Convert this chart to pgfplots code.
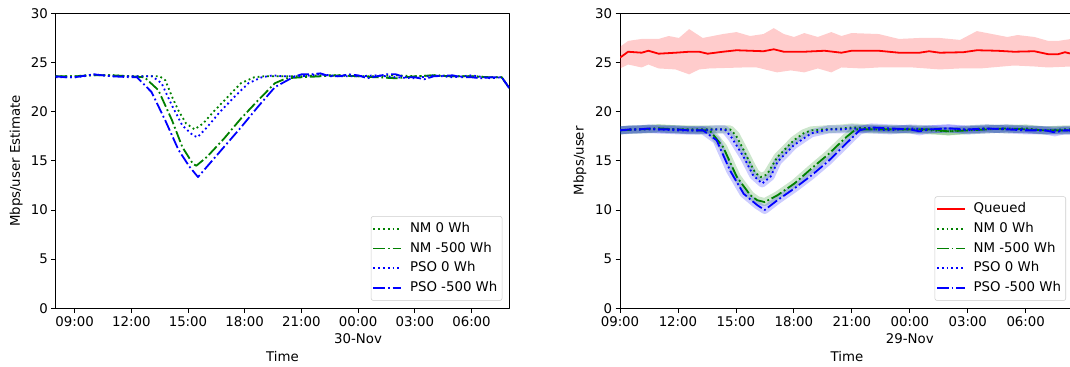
\documentclass[border=0pt]{standalone}
\usepackage{pgfplots}
\pgfplotsset{compat=1.18}
\usepackage{fontspec}
\setmainfont{DejaVu Sans}
\definecolor{mplgreen}{rgb}{0,0.5,0}
\definecolor{mplblue}{rgb}{0,0,1}
\definecolor{mplred}{rgb}{1,0,0}
\tikzset{
  mpldot/.style={dash pattern=on 1.35pt off 2.23pt},
  mpldashdot/.style={dash pattern=on 8.64pt off 2.16pt on 1.35pt off 2.16pt},
}
\pgfplotsset{
  myaxis/.style={
    anchor=south west, scale only axis,
    height=221.175pt,
    ymin=0, ymax=30, ytick={0,5,...,30},
    /pgf/number format/assume math mode=true,
    tick align=outside, xtick pos=bottom, ytick pos=left,
    major tick length=3.2pt,
    every tick/.style={black, line width=0.6pt},
    axis line style={black, line width=0.6pt},
    xticklabel style={align=center, inner sep=2.5pt},
    yticklabel style={inner sep=2.5pt},
    every axis x label/.style={at={(axis description cs:0.5,0)}, anchor=center, yshift=-35.8pt},
    legend cell align=left,
    legend image code/.code={\draw[##1, line cap=butt] (0pt,0pt) -- (21pt,0pt);},
    legend style={anchor=south east, draw=black!20, rounded corners=1.5pt, fill=white, fill opacity=0.8, text opacity=1,
      inner xsep=1pt, inner ysep=1.9pt, column sep=3.25pt,
      nodes={inner ysep=2.4pt, inner xsep=2.5pt, text height=7.6pt, text depth=2.4pt}},
    line join=round,
  },
}
\begin{document}
\fontsize{10}{12.75}\selectfont
\begin{tikzpicture}
\path[use as bounding box] (0,0) rectangle (802.5pt,275.25pt);
% ---------------- left -----------------
\begin{axis}[myaxis,
  at={(41.775pt,44.025pt)}, width=340.2pt,
  xmin=-1, xmax=23,
  xtick={0,3,6,9,12,15,18,21},
  xticklabels={09:00,12:00,15:00,18:00,21:00,{00:00\\30-Nov},03:00,06:00},
  xlabel={Time},
  ylabel={Mbps/user Estimate},
  every axis y label/.style={at={(axis description cs:0,0.5)}, rotate=90, anchor=center, yshift=29.6pt},
  legend style={at={(1,0)}, xshift=-5.25pt, yshift=5.7pt},
]
\addlegendimage{mplgreen, line width=1.35pt, mpldot}
\addlegendentry{NM 0 Wh}
\addlegendimage{mplgreen, line width=1.35pt, mpldashdot}
\addlegendentry{NM -500 Wh}
\addlegendimage{mplblue, line width=1.35pt, mpldot}
\addlegendentry{PSO 0 Wh}
\addlegendimage{mplblue, line width=1.35pt, mpldashdot}
\addlegendentry{PSO -500 Wh}
\addplot[mplgreen, line width=1.35pt, mpldot, forget plot] coordinates {
(-1,23.6) (0,23.6) (0.5,23.7) (1,23.7) (2,23.7) (3,23.6) (4,23.6) (4.5,23.6) (4.8,23.2) (5.16,21.5) (5.5,20.1) (5.9,18.8) (6.35,18.2) (6.8,18.8) (7.35,20.0) (8.1,21.5) (8.8,22.9) (9.5,23.5) (10,23.6) (11,23.6) (12,23.6) (13,23.7) (14,23.7) (15,23.6) (16,23.6) (17,23.7) (18,23.6) (19,23.7) (20,23.6) (21,23.6) (22,23.5) (22.6,23.5) (23,22.4)};
\addplot[mplgreen, line width=1.35pt, mpldashdot, forget plot] coordinates {
(-1,23.6) (0,23.6) (1,23.7) (2,23.7) (3,23.6) (3.7,23.5) (4.43,22.2) (5.16,19.1) (5.7,16.4) (6.26,14.7) (6.44,14.5) (7.0,15.4) (7.9,17.25) (8.8,19.3) (9.73,21.2) (10.6,22.9) (11.2,23.4) (12,23.5) (13,23.6) (14,23.7) (15,23.6) (16,23.5) (17,23.4) (18,23.6) (19,23.7) (20,23.6) (21,23.6) (22,23.5) (22.6,23.5) (23,22.4)};
\addplot[mplblue, line width=1.35pt, mpldot, forget plot] coordinates {
(-1,23.5) (0,23.5) (0.5,23.6) (1,23.8) (2,23.6) (3,23.6) (4.1,23.6) (4.6,22.9) (5.16,20.6) (5.7,18.6) (6.26,17.6) (6.5,17.4) (7.0,18.4) (7.7,20.0) (8.45,21.5) (9.2,22.9) (9.9,23.5) (10.5,23.7) (11,23.6) (12,23.6) (13,23.8) (14,23.6) (15,23.6) (16,23.7) (17,23.5) (18,23.4) (19,23.7) (20,23.5) (21,23.7) (22,23.4) (22.6,23.5) (23,22.4)};
\addplot[mplblue, line width=1.35pt, mpldashdot, forget plot] coordinates {
(-1,23.6) (-0.5,23.5) (0,23.5) (1,23.8) (2,23.6) (3,23.5) (3.3,23.5) (4.07,22.0) (4.8,19.1) (5.5,16.1) (6.08,14.4) (6.53,13.35) (7.0,14.4) (7.9,16.4) (8.8,18.4) (9.7,20.5) (10.6,22.5) (11.55,23.5) (12,23.8) (12.5,23.8) (13,23.9) (13.5,23.6) (14,23.6) (14.5,23.8) (15,23.7) (15.5,23.4) (16,23.6) (16.5,23.8) (17,23.8) (17.5,23.5) (18,23.5) (18.5,23.3) (19,23.6) (20,23.7) (20.5,23.5) (21,23.5) (21.5,23.4) (22,23.5) (22.6,23.5) (23,22.4)};
\end{axis}
% ---------------- right -----------------
\begin{axis}[myaxis,
  at={(465pt,44.025pt)}, width=340.5pt,
  xmin=0, xmax=23.5,
  xtick={0,3,6,9,12,15,18,21},
  xticklabels={09:00,12:00,15:00,18:00,21:00,{00:00\\29-Nov},03:00,06:00},
  xlabel={Time},
  ylabel={Mbps/user},
  every axis y label/.style={at={(axis description cs:0,0.5)}, rotate=90, anchor=center, yshift=30pt},
  legend style={at={(1,0)}, xshift=-6pt, yshift=5.7pt},
]
\addlegendimage{mplred, line width=1.35pt}
\addlegendentry{Queued}
\addlegendimage{mplgreen, line width=1.35pt, mpldot}
\addlegendentry{NM 0 Wh}
\addlegendimage{mplgreen, line width=1.35pt, mpldashdot}
\addlegendentry{NM -500 Wh}
\addlegendimage{mplblue, line width=1.35pt, mpldot}
\addlegendentry{PSO 0 Wh}
\addlegendimage{mplblue, line width=1.35pt, mpldashdot}
\addlegendentry{PSO -500 Wh}
% queued band
\addplot[fill=mplred, fill opacity=0.2, draw=none, forget plot] coordinates {
(0,26.6) (0.42,27.2) (1.12,27.4) (2.0,27.4) (2.52,27.7) (3.05,27.5) (3.58,28.4) (4.28,27.5) (5.33,27.9) (6.03,28.1) (6.73,27.7) (7.43,27.9) (7.96,28.5) (8.48,27.9) (9.01,27.6) (9.54,28.0) (10.24,27.6) (10.94,28.1) (11.46,27.7) (11.99,28.0) (13.39,27.9) (14.44,27.4) (15.5,27.5) (16.55,27.5) (17.6,27.3) (18.47,28.2) (19.0,28.0) (20.05,27.6) (20.58,27.8) (21.45,27.6) (22.16,27.2) (22.68,27.2) (23.35,27.4) (23.5,27.3)
(23.5,24.6) (23.35,24.6) (22.16,24.5) (21.45,24.6) (20.4,24.7) (18.65,24.4) (17.6,24.4) (16.55,24.3) (15.15,24.5) (13.39,24.5) (12.51,24.4) (11.46,24.5) (10.94,24.0) (10.24,24.4) (9.54,24.0) (8.84,24.2) (8.13,24.0) (7.08,24.5) (6.38,24.5) (4.63,24.4) (4.1,24.3) (3.58,23.8) (2.87,24.3) (2.0,24.4) (1.47,24.8) (1.12,24.5) (0.42,24.8) (0,24.4)} -- cycle;
% bands for the four series (wide translucent strokes of the same data)
\addplot[mplgreen, opacity=0.2, line width=6pt, forget plot] coordinates {
(0,18.1) (0.5,18.2) (1,18.2) (2,18.3) (3,18.2) (4,18.2) (5,18.2) (5.7,18.2) (6.0,17.6) (6.4,16.1) (6.75,14.7) (7.0,13.8) (7.28,13.35) (7.6,13.6) (8.15,15.4) (9.0,17.1) (9.5,17.8) (9.9,18.1) (10.6,18.2) (11.5,18.3) (12,18.4) (13,18.3) (14,18.2) (15,18.2) (16,18.1) (17,18.0) (18,18.2) (19,18.3) (20,18.2) (21,18.3) (22,18.1) (23,18.2) (23.5,18.2)};
\addplot[mplgreen, opacity=0.2, line width=6pt, forget plot] coordinates {
(0,18.1) (1,18.2) (2,18.3) (3,18.2) (4,18.1) (4.64,18.1) (5.34,16.4) (6.05,13.35) (6.75,11.5) (7.1,11.0) (7.49,10.8) (8.15,11.5) (9.03,12.7) (9.9,14.2) (10.8,15.7) (11.7,17.4) (12.2,18.2) (13,18.2) (14,18.2) (15,18.2) (16,18.2) (17,18.0) (18,18.1) (19,18.2) (20,18.3) (21,18.2) (22,18.1) (23,18.1) (23.5,18.1)};
\addplot[mplblue, opacity=0.2, line width=6pt, forget plot] coordinates {
(0,18.1) (1,18.2) (2,18.2) (3,18.1) (4,18.1) (5,18.2) (5.43,18.2) (5.8,17.3) (6.4,15.4) (6.9,13.5) (7.36,12.7) (7.8,13.4) (8.15,14.9) (9.0,16.6) (9.9,17.8) (10.8,18.2) (11.5,18.2) (12,18.3) (13,18.2) (14,18.1) (15,18.3) (16,18.2) (17,18.3) (18,18.1) (19,18.2) (20,18.3) (21,18.2) (22,18.1) (23,18.1) (23.5,18.1)};
\addplot[mplblue, opacity=0.2, line width=6pt, forget plot] coordinates {
(0,18.1) (0.5,18.2) (1,18.2) (1.5,18.3) (2,18.2) (3,18.2) (3.5,18.1) (4.3,18.1) (5.0,17.1) (5.7,14.0) (6.4,11.65) (7.1,10.5) (7.49,10.0) (8.15,11.0) (9.03,12.2) (9.9,13.5) (10.8,15.0) (11.7,16.75) (12.4,18.1) (13,18.4) (14,18.3) (15,18.2) (15.5,18.0) (16,18.2) (17,18.3) (18,18.2) (19,18.3) (20,18.2) (21,18.1) (22,18.1) (22.5,17.9) (23,18.1) (23.5,18.1)};
% lines
\addplot[mplred, line width=1.35pt, forget plot] coordinates {
(0,25.5) (0.42,26.1) (1.12,26.0) (1.47,26.2) (2.0,25.9) (2.87,26.0) (3.58,26.1) (4.1,26.1) (4.54,25.9) (5.33,26.1) (6.03,26.25) (6.73,26.2) (7.43,26.15) (7.96,26.35) (8.48,26.1) (9.54,26.1) (10.59,26.2) (11.46,26.0) (11.99,26.2) (13.39,26.2) (14.44,26.0) (15.5,26.0) (16.0,26.15) (16.55,26.0) (17.77,26.05) (18.47,26.25) (19.53,26.2) (20.4,26.1) (21.45,26.15) (22.16,25.85) (22.68,25.85) (23.03,26.05) (23.35,25.9) (23.5,25.95)};
\addplot[mplgreen, line width=1.35pt, mpldot, forget plot] coordinates {
(0,18.1) (0.5,18.2) (1,18.2) (2,18.3) (3,18.2) (4,18.2) (5,18.2) (5.7,18.2) (6.0,17.6) (6.4,16.1) (6.75,14.7) (7.0,13.8) (7.28,13.35) (7.6,13.6) (8.15,15.4) (9.0,17.1) (9.5,17.8) (9.9,18.1) (10.6,18.2) (11.5,18.3) (12,18.4) (13,18.3) (14,18.2) (15,18.2) (16,18.1) (17,18.0) (18,18.2) (19,18.3) (20,18.2) (21,18.3) (22,18.1) (23,18.2) (23.5,18.2)};
\addplot[mplgreen, line width=1.35pt, mpldashdot, forget plot] coordinates {
(0,18.1) (1,18.2) (2,18.3) (3,18.2) (4,18.1) (4.64,18.1) (5.34,16.4) (6.05,13.35) (6.75,11.5) (7.1,11.0) (7.49,10.8) (8.15,11.5) (9.03,12.7) (9.9,14.2) (10.8,15.7) (11.7,17.4) (12.2,18.2) (13,18.2) (14,18.2) (15,18.2) (16,18.2) (17,18.0) (18,18.1) (19,18.2) (20,18.3) (21,18.2) (22,18.1) (23,18.1) (23.5,18.1)};
\addplot[mplblue, line width=1.35pt, mpldot, forget plot] coordinates {
(0,18.1) (1,18.2) (2,18.2) (3,18.1) (4,18.1) (5,18.2) (5.43,18.2) (5.8,17.3) (6.4,15.4) (6.9,13.5) (7.36,12.7) (7.8,13.4) (8.15,14.9) (9.0,16.6) (9.9,17.8) (10.8,18.2) (11.5,18.2) (12,18.3) (13,18.2) (14,18.1) (15,18.3) (16,18.2) (17,18.3) (18,18.1) (19,18.2) (20,18.3) (21,18.2) (22,18.1) (23,18.1) (23.5,18.1)};
\addplot[mplblue, line width=1.35pt, mpldashdot, forget plot] coordinates {
(0,18.1) (0.5,18.2) (1,18.2) (1.5,18.3) (2,18.2) (3,18.2) (3.5,18.1) (4.3,18.1) (5.0,17.1) (5.7,14.0) (6.4,11.65) (7.1,10.5) (7.49,10.0) (8.15,11.0) (9.03,12.2) (9.9,13.5) (10.8,15.0) (11.7,16.75) (12.4,18.1) (13,18.4) (14,18.3) (15,18.2) (15.5,18.0) (16,18.2) (17,18.3) (18,18.2) (19,18.3) (20,18.2) (21,18.1) (22,18.1) (22.5,17.9) (23,18.1) (23.5,18.1)};
\end{axis}
\end{tikzpicture}
\end{document}
